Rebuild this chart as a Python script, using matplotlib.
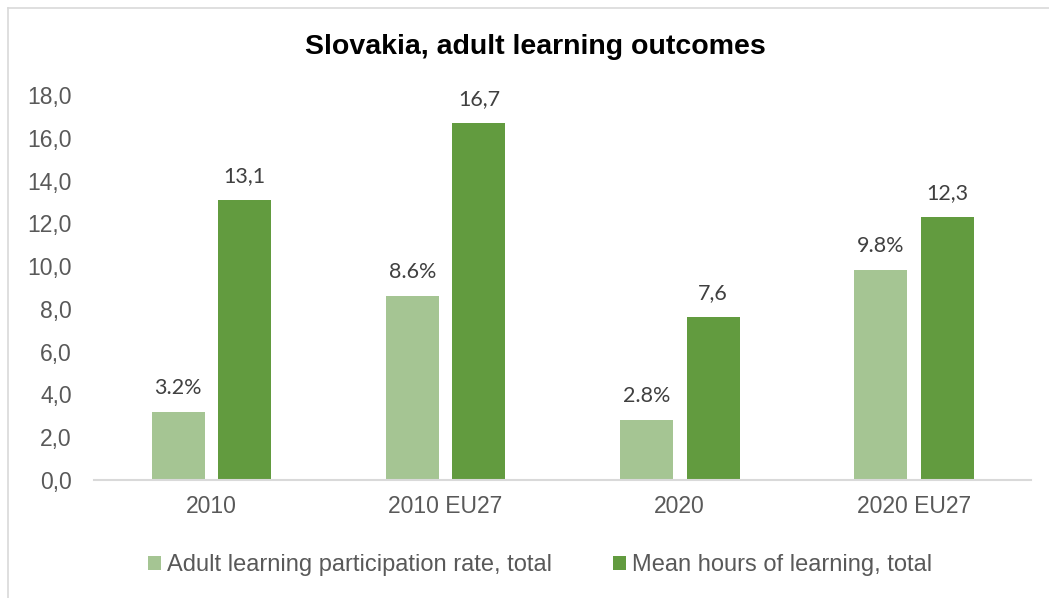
import matplotlib
matplotlib.use("Agg")
import matplotlib.pyplot as plt
import numpy as np
from matplotlib.lines import Line2D

categorias = ["2010", "2010 EU27", "2020", "2020 EU27"]
participacion = [3.2, 8.6, 2.8, 9.8]
horas = [13.1, 16.7, 7.6, 12.3]
etiquetas_part = ["3.2%", "8.6%", "2.8%", "9.8%"]
etiquetas_horas = ["13,1", "16,7", "7,6", "12,3"]
yticks = [0, 2, 4, 6, 8, 10, 12, 14, 16, 18]

verde_claro = "#A5C593"
verde_oscuro = "#629B3F"
gris = "#595959"

plt.rcParams["font.family"] = ["Liberation Sans", "DejaVu Sans"]

fig = plt.figure(figsize=(10.49, 5.98), dpi=100)
ax = fig.add_axes([94 / 1049, 1 - 480 / 598, (1031 - 94) / 1049, (480 - 95) / 598])

x = np.arange(len(categorias))
ancho = 0.226
ax.bar(x - 0.141, participacion, ancho, color=verde_claro, label="Adult learning participation rate, total")
ax.bar(x + 0.143, horas, ancho, color=verde_oscuro, label="Mean hours of learning, total")

for xi, v, t in zip(x, participacion, etiquetas_part):
    ax.text(xi - 0.141, v + 0.65, t, ha="center", va="bottom", fontsize=15.5,
            color="#404040", family="Lato")
for xi, v, t in zip(x, horas, etiquetas_horas):
    ax.text(xi + 0.143, v + 0.65, t, ha="center", va="bottom", fontsize=15.5,
            color="#404040", family="Lato")

ax.set_xlim(-0.5, 3.5)
ax.set_ylim(0, 18)
ax.set_yticks(yticks)
ax.set_yticklabels([f"{v:.1f}".replace(".", ",") for v in yticks])
ax.set_xticks(x)
ax.set_xticklabels(categorias)
ax.tick_params(axis="both", length=0, labelsize=16.5, colors=gris)
ax.tick_params(axis="y", pad=16)
ax.tick_params(axis="x", pad=11)
for s in ["top", "right", "left"]:
    ax.spines[s].set_visible(False)
ax.spines["bottom"].set_color("#D9D9D9")
ax.spines["bottom"].set_linewidth(1.5)

fig.text(535 / 1049, 1 - 47 / 598, "Slovakia, adult learning outcomes", ha="center", va="center",
         fontsize=20.5, fontweight="bold", color="black")

leg = fig.legend(loc="center", bbox_to_anchor=(540 / 1049, 1 - 565 / 598), ncol=2, frameon=False,
                 fontsize=17, handlelength=0.55, handleheight=0.55, handletextpad=0.25,
                 columnspacing=2.6)
for t in leg.get_texts():
    t.set_color(gris)

# marco del gráfico
fig.add_artist(Line2D([8 / 1049, 8 / 1049], [0, 1 - 8 / 598], color="#D9D9D9", lw=1.2))
fig.add_artist(Line2D([8 / 1049, 1], [1 - 8 / 598, 1 - 8 / 598], color="#D9D9D9", lw=1.2))

fig.savefig("out.png", dpi=100)
